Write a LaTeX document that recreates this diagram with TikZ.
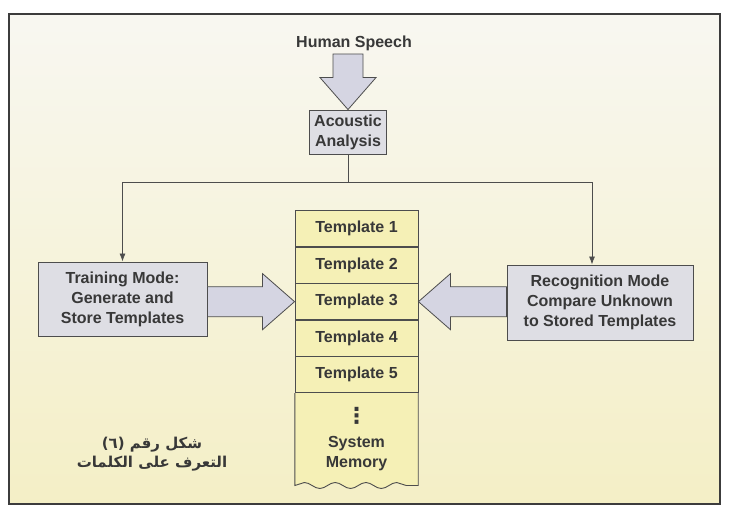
\documentclass[tikz,border=0pt]{standalone}
\usepackage{fontspec}
\setmainfont{Liberation Sans}
\newfontfamily\arabicfont[Script=Arabic]{DejaVu Sans}
\newfontfamily\symfont{DejaVu Sans}
\TeXXeTstate=1
\usetikzlibrary{positioning}
\usetikzlibrary{matrix}
\usetikzlibrary{calc}
\usetikzlibrary{arrows.meta}
\usetikzlibrary{backgrounds}
\usetikzlibrary{decorations.pathmorphing}
\definecolor{framegrey}{HTML}{3C3C3C}
\definecolor{linegrey}{HTML}{4D4D4D}
\definecolor{textgrey}{HTML}{383838}
\definecolor{papertop}{HTML}{F8F7F1}
\definecolor{paperbot}{HTML}{F4EFC6}
\definecolor{boxfill}{HTML}{DEDEE4}
\definecolor{arrowfill}{HTML}{D5D5E2}
\definecolor{stackfill}{HTML}{F5F0B6}
\newcommand{\fatarrow}[2]{%
\coordinate (neck) at ($(#2)!32pt!(#1)$);
\filldraw[fat] ($(#1)!15pt!90:(#2)$) -- ($(neck)!15pt!-90:(#1)$)
  -- ($(neck)!28pt!-90:(#1)$) -- (#2) -- ($(neck)!28pt!90:(#1)$)
  -- ($(neck)!15pt!90:(#1)$) -- ($(#1)!15pt!-90:(#2)$) -- cycle;}

\begin{document}
\begin{tikzpicture}[x=1pt,y=-1pt,
every node/.style={font=\bfseries\fontsize{16}{20}\selectfont, text=textgrey},
modebox/.style={draw=linegrey, fill=boxfill, line width=0.9pt, align=center, inner sep=2pt},
cell/.style={draw=linegrey, fill=stackfill, line width=0.9pt, minimum width=123pt, minimum height=36pt, inner sep=0pt},
fat/.style={draw=linegrey, fill=arrowfill, line width=0.8pt, line join=miter},
link/.style={draw=linegrey, line width=0.8pt},
tip/.style={-{Latex[length=8pt,width=6pt]}}]
\useasboundingbox (0,0) rectangle (729,506);

\node (speech) at (354,43) {Human Speech};
\node[modebox, minimum width=77pt, minimum height=44pt] (acoustic) at (348,132) {Acoustic\\Analysis};
\coordinate[below=28pt of acoustic.south] (junc);

\node[modebox, minimum width=169pt, minimum height=74pt] (train) at (122.5,299) {Training Mode:\\Generate and\\Store Templates};
\node[modebox, minimum width=186pt, minimum height=75pt] (recog) at (600,302.5) {Recognition Mode\\Compare Unknown\\to Stored Templates};

\matrix (stack) [matrix of nodes, row sep=-\pgflinewidth, inner sep=0pt, nodes={cell}, anchor=north] at (356.5,210)
{
|(t1)| Template 1 \\
|(t2)| Template 2 \\
|(t3)| Template 3 \\
|(t4)| Template 4 \\
|(t5)| Template 5 \\
};
\node[minimum width=123pt, minimum height=92pt, inner sep=0pt, align=center, below=0pt of t5] (mem)
{{\symfont\bfseries\fontsize{22}{22}\selectfont ⋮}\\[4pt]System\\Memory};

\fatarrow{acoustic.north |- speech.south}{acoustic.north}
\fatarrow{train.east |- t3}{t3.west}
\fatarrow{recog.west |- t3}{t3.east}

\draw[link] (acoustic.south) -- (junc);
\draw[link,tip] (junc) -| (train.north);
\draw[link,tip] (junc) -| ([xshift=-8pt]recog.north);

\node[font=\arabicfont\bfseries\fontsize{15}{19}\selectfont, align=center] (caption) at (152,454)
{\beginR شكل رقم (٦)\endR\\\beginR التعرف على الكلمات\endR};

\begin{scope}[on background layer]
\shade[top color=papertop, bottom color=paperbot] (9,14) rectangle (720,504);
\draw[framegrey, line width=1.6pt] (9,14) rectangle (720,504);
\filldraw[fill=stackfill, draw=linegrey, line width=0.9pt] (mem.north west) -- (mem.south west)
  decorate[decoration={snake, segment length=30.75pt, amplitude=3pt}] {-- (mem.south east)} -- (mem.north east);
\end{scope}
\end{tikzpicture}
\end{document}
